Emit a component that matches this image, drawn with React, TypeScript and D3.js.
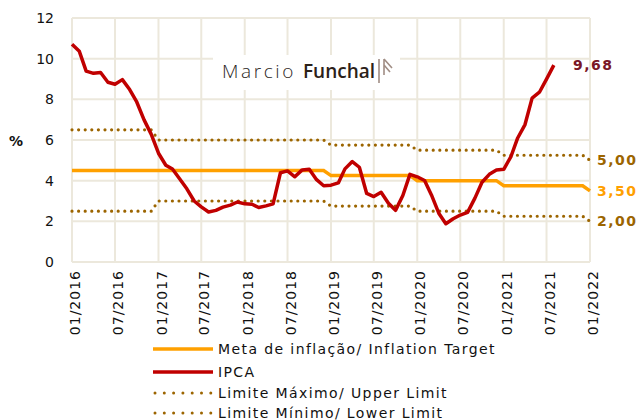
import React from "react";
import * as d3 from "d3";

// IPCA 12-month accumulated, monthly from 01/2016 to 08/2021
const ipca = [
  10.71, 10.36, 9.39, 9.28, 9.32, 8.84, 8.74, 8.97, 8.48, 7.87, 6.99, 6.29,
  5.35, 4.76, 4.57, 4.08, 3.6, 3.0, 2.71, 2.46, 2.54, 2.7, 2.8, 2.95,
  2.86, 2.84, 2.68, 2.76, 2.86, 4.39, 4.48, 4.19, 4.53, 4.56, 4.05, 3.75,
  3.78, 3.89, 4.58, 4.94, 4.66, 3.37, 3.22, 3.43, 2.89, 2.54, 3.27, 4.31,
  4.19, 4.01, 3.3, 2.4, 1.88, 2.13, 2.31, 2.44, 3.14, 3.92, 4.31, 4.52,
  4.56, 5.2, 6.1, 6.76, 8.06, 8.35, 8.99, 9.68,
];

// annual target and band, 2016..2022
const years = [2016, 2017, 2018, 2019, 2020, 2021, 2022];
const target = [4.5, 4.5, 4.5, 4.25, 4.0, 3.75, 3.5];
const upper = [6.5, 6.0, 6.0, 5.75, 5.5, 5.25, 5.0];
const lower = [2.5, 3.0, 3.0, 2.75, 2.5, 2.25, 2.0];

const yTicks = [0, 2, 4, 6, 8, 10, 12];
const legendLabels = [
  "Meta de inflação/ Inflation Target",
  "IPCA",
  "Limite Máximo/ Upper Limit",
  "Limite Mínimo/ Lower Limit",
];

const ORANGE = "#ffa000";
const RED = "#c00000";
const GOLD = "#9c6500";
const GRID = "#ece8dc";
const FONT = "'DejaVu Sans', Verdana, sans-serif";
const LOGO_FONT = "'Open Sans', 'DejaVu Sans', sans-serif";

// monthly steps of an annual series (last year only January)
function monthly(vals: number[]) {
  const out: { d: Date; v: number }[] = [];
  years.forEach((yr, i) => {
    const n = yr === 2022 ? 1 : 12;
    for (let m = 0; m < n; m++) out.push({ d: new Date(yr, m, 1), v: vals[i] });
  });
  return out;
}

export default function App() {
  const x = d3
    .scaleTime()
    .domain([new Date(2016, 0, 1), new Date(2022, 0, 1)])
    .range([72, 590]);
  const y = d3.scaleLinear().domain([0, 12]).range([262, 18]);

  const xTicks = x.ticks(d3.timeMonth.every(6) as any);
  const fmt = d3.timeFormat("%m/%Y");

  const line = d3
    .line<{ d: Date; v: number }>()
    .x((p) => x(p.d))
    .y((p) => y(p.v));

  const ipcaPts = ipca.map((v, i) => ({ d: new Date(2016, i, 1), v }));
  const last = ipcaPts[ipcaPts.length - 1];

  const legendY = [349, 372, 393, 413];

  return (
    <svg width={640} height={420} style={{ position: "absolute", left: 0, top: 0 }}>
      <rect width={640} height={420} fill="#fff" />
      {/* grid */}
      {yTicks.map((t) => (
        <line key={"h" + t} x1={72} x2={590} y1={y(t)} y2={y(t)} stroke={GRID} strokeWidth={2} />
      ))}
      {xTicks.map((t, i) => (
        <line key={"v" + i} x1={x(t)} x2={x(t)} y1={18} y2={262} stroke={GRID} strokeWidth={2} />
      ))}

      {/* logo */}
      <rect x={213} y={55} width={187} height={35} fill="#fff" />
      <text x={222} y={78} fontFamily={LOGO_FONT} fontSize={19} fontWeight={300} letterSpacing={2.6} fill="#2b2522">
        Marcio
      </text>
      <text x={303} y={78} fontFamily={LOGO_FONT} fontSize={19} fontWeight={600} fill="#2b2119">
        Funchal
      </text>
      <g stroke="#a08d84" strokeWidth={1.6} fill="none">
        <path d="M379,59 L379,83 M384,59 L384,75 M384,59 L392,68 M384,65 L390,72" />
      </g>

      {/* y axis labels */}
      {yTicks.map((t) => (
        <text key={"yl" + t} x={54} y={y(t)} dy="0.36em" textAnchor="end" fontFamily={FONT} fontSize={14} fill="#111">
          {t}
        </text>
      ))}
      <text x={9} y={141} dy="0.36em" fontFamily={FONT} fontSize={14} fontWeight={700} fill="#111">
        %
      </text>

      {/* x axis labels */}
      {xTicks.map((t, i) => (
        <text
          key={"xl" + i}
          transform={`translate(${x(t) + 3},270) rotate(-90)`}
          dy="0.36em"
          textAnchor="end"
          fontFamily={FONT}
          fontSize={14}
          letterSpacing={1}
          fill="#111"
        >
          {fmt(t)}
        </text>
      ))}

      {/* band */}
      <path d={line(monthly(upper)) || ""} fill="none" stroke={GOLD} strokeWidth={3.2} strokeLinecap="round" strokeDasharray="0 6.6" />
      <path d={line(monthly(lower)) || ""} fill="none" stroke={GOLD} strokeWidth={3.2} strokeLinecap="round" strokeDasharray="0 6.6" />
      <path d={line(monthly(target)) || ""} fill="none" stroke={ORANGE} strokeWidth={3.5} />
      <path d={line(ipcaPts) || ""} fill="none" stroke={RED} strokeWidth={3.5} strokeLinejoin="round" />

      {/* end labels */}
      <text x={573} y={y(last.v)} dy="0.36em" fontFamily={FONT} fontSize={14} fontWeight={700} letterSpacing={1.5} fill="#7a1726">
        {last.v.toFixed(2).replace(".", ",")}
      </text>
      <text x={597} y={y(upper[6])} dy="0.36em" fontFamily={FONT} fontSize={14} fontWeight={700} letterSpacing={1.5} fill={GOLD}>
        {upper[6].toFixed(2).replace(".", ",")}
      </text>
      <text x={597} y={y(target[6])} dy="0.36em" fontFamily={FONT} fontSize={14} fontWeight={700} letterSpacing={1.5} fill={ORANGE}>
        {target[6].toFixed(2).replace(".", ",")}
      </text>
      <text x={597} y={y(lower[6])} dy="0.36em" fontFamily={FONT} fontSize={14} fontWeight={700} letterSpacing={1.5} fill={GOLD}>
        {lower[6].toFixed(2).replace(".", ",")}
      </text>

      {/* legend */}
      {legendLabels.map((lab, i) => (
        <g key={lab}>
          {i < 2 ? (
            <line x1={153} x2={213} y1={legendY[i]} y2={legendY[i]} stroke={i === 0 ? ORANGE : RED} strokeWidth={3.5} />
          ) : (
            <line x1={155} x2={213} y1={legendY[i]} y2={legendY[i]} stroke={GOLD} strokeWidth={3} strokeLinecap="round" strokeDasharray="0 9.3" />
          )}
          <text x={218} y={legendY[i]} dy="0.36em" fontFamily={FONT} fontSize={14} letterSpacing={1.4} fill="#111">
            {lab}
          </text>
        </g>
      ))}
    </svg>
  );
}
